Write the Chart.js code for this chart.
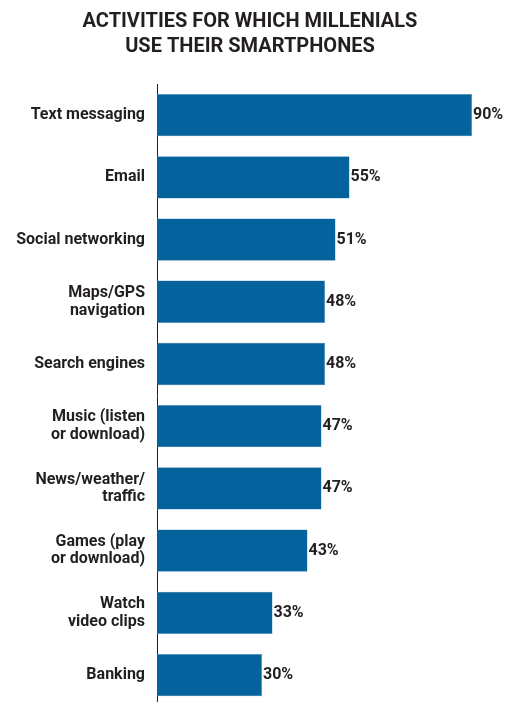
<!DOCTYPE html>
<html>
<head>
<meta charset="utf-8">
<script src="https://cdn.jsdelivr.net/npm/chart.js@4"></script>
<style>
  html, body { margin: 0; padding: 0; background: #fff; overflow: hidden; }
  #wrap { width: 505px; height: 727px; }
</style>
</head>
<body>
<div id="wrap"><canvas id="myChart"></canvas></div>
<script>
// activites sur smartphone

const labels = [
    'Text messaging',
    'Email',
    'Social networking',
    ['Maps/GPS', 'navigation'],
    'Search engines',
    ['Music (listen', 'or download)'],
    ['News/weather/', 'traffic'],
    ['Games (play', 'or download)'],
    ['Watch', 'video clips'],
    'Banking'
];

const values = [90, 55, 51, 48, 48, 47, 47, 43, 33, 30];

const titleLines = ['ACTIVITIES FOR WHICH MILLENIALS', 'USE THEIR SMARTPHONES'];

const fontFamily = 'Roboto, "Open Sans", sans-serif';
const textColor = '#231f20';

// pourcentage a droite de chaque barre
const valueLabels = {
    id: 'valueLabels',
    afterDatasetsDraw(chart) {
        const ctx = chart.ctx;
        const meta = chart.getDatasetMeta(0);
        ctx.save();
        ctx.font = 'bold 16px ' + fontFamily;
        ctx.fillStyle = textColor;
        ctx.textAlign = 'left';
        ctx.textBaseline = 'middle';
        meta.data.forEach((bar, i) => {
            ctx.fillText(values[i] + '%', bar.x + 1, bar.y);
        });
        ctx.restore();
    }
};

const data = {
    labels: labels,
    datasets: [{
        data: values,
        backgroundColor: '#04639d',
        borderColor: '#4f8fbd',
        borderWidth: 0.5,
        borderSkipped: 'left',
        barPercentage: 0.68,
        categoryPercentage: 1
    }]
};

const config = {
    type: 'bar',
    data: data,
    options: {
        indexAxis: 'y',
        responsive: true,
        maintainAspectRatio: false,
        animation: false,
        layout: {
            padding: { left: 0, right: 5, top: 0, bottom: 0 }
        },
        plugins: {
            legend: { display: false },
            tooltip: { enabled: false },
            title: {
                display: true,
                text: titleLines,
                color: textColor,
                font: { family: fontFamily, size: 20, weight: 'bold', lineHeight: 1.25 },
                padding: { top: 9, bottom: 25 }
            }
        },
        scales: {
            x: {
                display: false,
                min: 0,
                max: 98
            },
            y: {
                grid: { display: false, drawTicks: false },
                border: { display: true, color: '#231f20', width: 1 },
                ticks: {
                    color: textColor,
                    padding: 12,
                    font: { family: fontFamily, size: 16, weight: 'bold', lineHeight: 1.1 }
                },
                afterFit(scale) { scale.width = 157; }
            }
        }
    },
    plugins: [valueLabels]
};

const myChart = new Chart(
    document.getElementById('myChart'),
    config
);
</script>
</body>
</html>
